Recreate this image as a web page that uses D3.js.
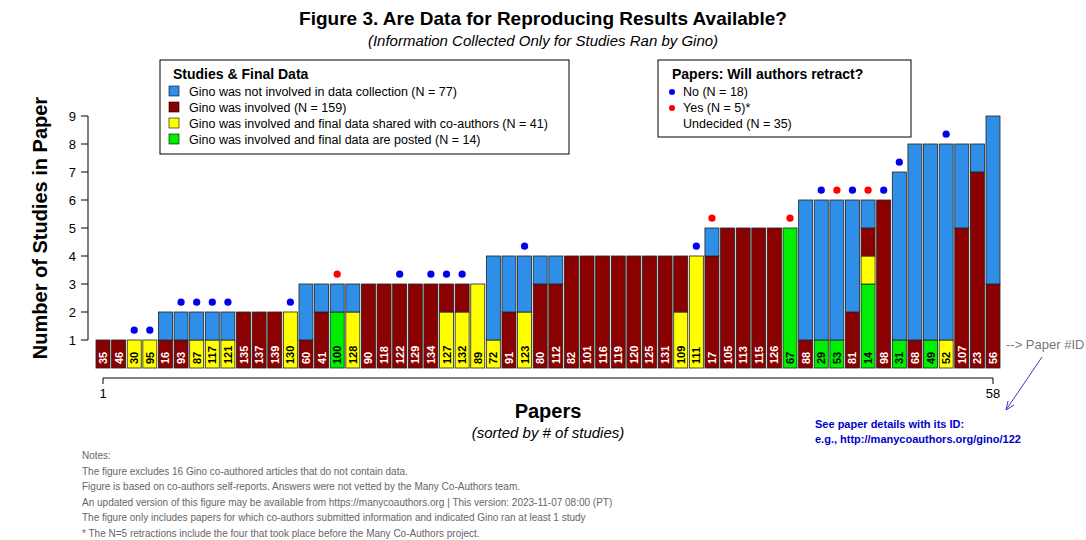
<!DOCTYPE html><html><head><meta charset="utf-8"><script src="https://cdn.jsdelivr.net/npm/d3@7"></script>
<style>body{margin:0;background:#fff}text{font-family:"Liberation Sans",Arial,sans-serif}</style></head><body><svg id="c" width="1086" height="540"></svg>
<script>
const paperIds=[35,46,30,95,16,93,87,117,121,135,137,139,130,60,41,100,128,90,118,122,129,134,127,132,89,72,91,123,80,112,82,101,116,119,120,125,131,109,111,17,105,113,115,126,67,88,29,53,81,14,98,31,68,49,52,107,23,56];
const greenN=[0,0,0,0,0,0,0,0,0,0,0,0,0,0,0,2,0,0,0,0,0,0,0,0,0,0,0,0,0,0,0,0,0,0,0,0,0,0,0,0,0,0,0,0,5,0,1,1,0,3,0,1,0,1,0,0,0,0];
const yellowN=[0,0,1,1,0,0,1,1,1,0,0,0,2,0,0,0,2,0,0,0,0,0,2,2,3,1,0,2,0,0,0,0,0,0,0,0,0,2,4,0,0,0,0,0,0,0,0,0,0,1,0,0,0,0,1,0,0,0];
const redN=[1,1,0,0,1,1,0,0,0,2,2,2,0,1,2,0,0,3,3,3,3,3,1,1,0,0,2,0,3,3,4,4,4,4,4,4,4,2,0,4,5,5,5,5,0,1,0,0,2,1,6,0,1,0,0,5,7,3];
const blueN=[0,0,0,0,1,1,1,1,1,0,0,0,0,2,1,1,1,0,0,0,0,0,0,0,0,3,2,2,1,1,0,0,0,0,0,0,0,0,0,1,0,0,0,0,0,5,5,5,4,1,0,6,7,7,7,3,1,6];
// retraction: "no", "yes", or "" (undecided)
const retract=["","","no","no","","no","no","no","no","","","","no","","","yes","","","","no","","no","no","no","","","","no","","","","","","","","","","","no","yes","","","","","yes","","no","yes","no","yes","no","no","","","no","","",""];
const yTicks=[1,2,3,4,5,6,7,8,9];
const notes=["Notes:","The figure excludes 16 Gino co-authored articles that do not contain data.","Figure is based on co-authors self-reports. Answers were not vetted by the Many Co-Authors team.","An updated version of this figure may be available from https://manycoauthors.org  |  This version: 2023-11-07 08:00 (PT)","The figure only includes papers for which co-authors submitted information and indicated Gino ran at least 1 study","* The N=5 retractions include the four that took place before the Many Co-Authors project."];
const legItems=[["#2f8fe8","Gino was not involved in data collection (N = 77)"],["#8b0000","Gino was involved (N = 159)"],["#ffff00","Gino was involved and final data shared with co-authors (N = 41)"],["#00ee00","Gino was involved and final data are posted (N = 14)"]];
const cols={green:"#00ee00",yellow:"#ffff00",red:"#8b0000",blue:"#2f8fe8"};

const svg=d3.select("#c");
const x=d3.scaleLinear().domain([1,58]).range([103,993]);
const y=d3.scaleLinear().domain([0,9]).range([368,116]);
const bw=14;
svg.append("text").attr("x",543).attr("y",25).attr("text-anchor","middle").attr("font-size",19).attr("font-weight","bold").text("Figure 3. Are Data for Reproducing Results Available?");
svg.append("text").attr("x",543).attr("y",46).attr("text-anchor","middle").attr("font-size",15).attr("font-style","italic").text("(Information Collected Only for Studies Ran by Gino)");

paperIds.forEach((id,i)=>{
  let base=0;
  const segs=[["green",greenN[i]],["yellow",yellowN[i]],["red",redN[i]],["blue",blueN[i]]];
  segs.forEach(([k,n])=>{ if(!n)return;
    svg.append("rect").attr("x",x(i+1)-bw/2).attr("y",y(base+n)).attr("width",bw).attr("height",y(base)-y(base+n)).attr("fill",cols[k]).attr("stroke","#222").attr("stroke-width",0.8);
    base+=n;});
  const light=(greenN[i]>0)||(yellowN[i]>0&&greenN[i]==0&&true);
  const bottom=segs.find(s=>s[1]>0)[0];
  svg.append("text").attr("transform",`translate(${x(i+1)+4},${y(0)-4}) rotate(-90)`).attr("font-size",11).attr("font-weight","bold").attr("fill",(bottom=="red"||bottom=="blue")?"#fff":"#000").text(id);
  if(retract[i]) svg.append("circle").attr("cx",x(i+1)).attr("cy",y(base+0.35)).attr("r",3.6).attr("fill",retract[i]=="yes"?"#ff0000":"#0000ee");
});
// y axis
svg.append("line").attr("x1",88).attr("x2",88).attr("y1",y(1)).attr("y2",y(9)).attr("stroke","#000");
yTicks.forEach(t=>{svg.append("line").attr("x1",81).attr("x2",88).attr("y1",y(t)).attr("y2",y(t)).attr("stroke","#000");
 svg.append("text").attr("x",76).attr("y",y(t)+5).attr("text-anchor","end").attr("font-size",13).text(t);});
svg.append("text").attr("transform","translate(47,228) rotate(-90)").attr("text-anchor","middle").attr("font-size",20).attr("font-weight","bold").text("Number of Studies in Paper");
// x axis
svg.append("line").attr("x1",x(1)).attr("x2",x(58)).attr("y1",378).attr("y2",378).attr("stroke","#000");
[1,58].forEach(t=>{svg.append("line").attr("x1",x(t)).attr("x2",x(t)).attr("y1",378).attr("y2",384).attr("stroke","#000");
 svg.append("text").attr("x",x(t)).attr("y",398).attr("text-anchor","middle").attr("font-size",13).text(t);});
svg.append("text").attr("x",548).attr("y",418).attr("text-anchor","middle").attr("font-size",20).attr("font-weight","bold").text("Papers");
svg.append("text").attr("x",548).attr("y",438).attr("text-anchor","middle").attr("font-size",15).attr("font-style","italic").text("(sorted by # of studies)");
// legend 1
svg.append("rect").attr("x",160).attr("y",60).attr("width",409).attr("height",94).attr("fill","#fff").attr("stroke","#000");
svg.append("text").attr("x",173).attr("y",79).attr("font-size",14).attr("font-weight","bold").text("Studies & Final Data");
legItems.forEach((d,i)=>{svg.append("rect").attr("x",169).attr("y",86+i*16).attr("width",10).attr("height",10).attr("fill",d[0]).attr("stroke","#000").attr("stroke-width",0.6);
 svg.append("text").attr("x",189).attr("y",96+i*16).attr("font-size",12.5).text(d[1]);});
// legend 2
svg.append("rect").attr("x",658).attr("y",60).attr("width",253).attr("height",77).attr("fill","#fff").attr("stroke","#000");
svg.append("text").attr("x",672).attr("y",79).attr("font-size",14).attr("font-weight","bold").text("Papers: Will authors retract?");
[["#0000ee","No (N = 18)"],["#ff0000","Yes (N = 5)*"],[null,"Undecided (N = 35)"]].forEach((d,i)=>{
 if(d[0])svg.append("circle").attr("cx",672).attr("cy",92+i*16).attr("r",3).attr("fill",d[0]);
 svg.append("text").attr("x",683).attr("y",96+i*16).attr("font-size",12.5).text(d[1]);});
// annotations
svg.append("text").attr("x",1006).attr("y",349).attr("font-size",13).attr("fill","#777").text("--> Paper #ID");
svg.append("line").attr("x1",1042).attr("y1",357).attr("x2",1006).attr("y2",410).attr("stroke","#3b3bbf");
svg.append("path").attr("d","M1006,410 l2,-9 M1006,410 l8,-5").attr("stroke","#3b3bbf").attr("fill","none");
svg.append("text").attr("x",815).attr("y",428).attr("font-size",11).attr("font-weight","bold").attr("fill","#0000cc").text("See paper details with its ID:");
svg.append("text").attr("x",815).attr("y",443).attr("font-size",11).attr("font-weight","bold").attr("fill","#0000cc").text("e.g., http://manycoauthors.org/gino/122");
notes.forEach((t,i)=>svg.append("text").attr("x",82).attr("y",459+i*15.6).attr("font-size",10).attr("fill","#666").text(t));
</script></body></html>
